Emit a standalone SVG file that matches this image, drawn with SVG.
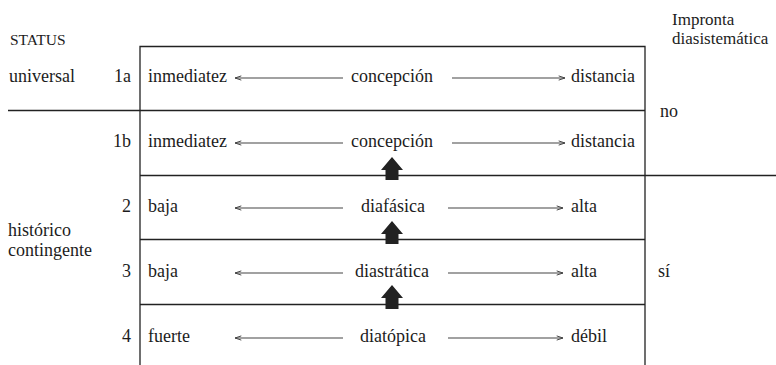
<svg xmlns="http://www.w3.org/2000/svg" width="776" height="365" viewBox="0 0 776 365">
<defs>
<marker id="head" viewBox="0 0 10 10" refX="10" refY="5" markerWidth="7" markerHeight="7" markerUnits="userSpaceOnUse" orient="auto-start-reverse">
<path d="M1,2 L10,5 L1,8" fill="none" stroke="#444" stroke-width="1.4"/>
</marker>
</defs>
<style>
text{font-family:'Liberation Serif','Times New Roman',serif;font-size:18px;fill:#1c1c1c}
.s{font-size:15.5px}
.h{font-size:17px}
.r{text-anchor:end}
.m{text-anchor:middle}
.frame{stroke:#222;stroke-width:1.3;fill:none}
.arr{stroke:#444;stroke-width:1.1;fill:none}
.fat{fill:#222}
</style>
<rect width="776" height="365" fill="#ffffff"/>
<g id="frame">
<path class="frame" d="M140,365 V46.5 H645 V365"/>
<line class="frame" x1="8" y1="110.5" x2="645" y2="110.5"/>
<line class="frame" x1="140" y1="175.5" x2="776" y2="175.5"/>
<line class="frame" x1="140" y1="239.5" x2="645" y2="239.5"/>
<line class="frame" x1="140" y1="304.5" x2="645" y2="304.5"/>
</g>
<g id="headers">
<text class="s" x="10" y="45">STATUS</text>
<text class="h" x="672" y="25">Impronta</text>
<text class="h" x="672" y="44">diasistemática</text>
</g>
<g id="status">
<text x="9" y="82">universal</text>
<text x="8" y="236">histórico</text>
<text x="8" y="256">contingente</text>
</g>
<g id="impronta">
<text x="660" y="117">no</text>
<text x="658" y="277">sí</text>
</g>
<g id="row-1a">
<text class="r" x="131" y="82">1a</text>
<text x="148" y="82">inmediatez</text>
<text class="m" x="392" y="82">concepción</text>
<text x="571" y="82">distancia</text>
</g>
<g id="row-1b">
<text class="r" x="131" y="147">1b</text>
<text x="148" y="147">inmediatez</text>
<text class="m" x="392" y="147">concepción</text>
<text x="571" y="147">distancia</text>
</g>
<g id="row-2">
<text class="r" x="131" y="212">2</text>
<text x="148" y="212">baja</text>
<text class="m" x="393" y="212">diafásica</text>
<text x="571" y="212">alta</text>
</g>
<g id="row-3">
<text class="r" x="131" y="277">3</text>
<text x="148" y="277">baja</text>
<text class="m" x="392" y="277">diastrática</text>
<text x="571" y="277">alta</text>
</g>
<g id="row-4">
<text class="r" x="131" y="342">4</text>
<text x="148" y="342">fuerte</text>
<text class="m" x="393" y="342">diatópica</text>
<text x="571" y="342">débil</text>
</g>
<g id="connectors">
<line class="arr" x1="343" y1="78" x2="235" y2="78" marker-end="url(#head)"/>
<line class="arr" x1="452" y1="78" x2="565" y2="78" marker-end="url(#head)"/>
<line class="arr" x1="343" y1="143" x2="235" y2="143" marker-end="url(#head)"/>
<line class="arr" x1="452" y1="143" x2="565" y2="143" marker-end="url(#head)"/>
<line class="arr" x1="343" y1="208" x2="235" y2="208" marker-end="url(#head)"/>
<line class="arr" x1="448" y1="208" x2="563" y2="208" marker-end="url(#head)"/>
<line class="arr" x1="343" y1="273" x2="235" y2="273" marker-end="url(#head)"/>
<line class="arr" x1="448" y1="273" x2="563" y2="273" marker-end="url(#head)"/>
<line class="arr" x1="343" y1="338" x2="235" y2="338" marker-end="url(#head)"/>
<line class="arr" x1="448" y1="338" x2="563" y2="338" marker-end="url(#head)"/>
<polygon class="fat" points="392,157 403,170 398.5,170 398.5,180 385.5,180 385.5,170 381,170"/>
<polygon class="fat" points="392,221 403,234 398.5,234 398.5,244 385.5,244 385.5,234 381,234"/>
<polygon class="fat" points="392,285 403,298 398.5,298 398.5,309 385.5,309 385.5,298 381,298"/>
</g>
</svg>
